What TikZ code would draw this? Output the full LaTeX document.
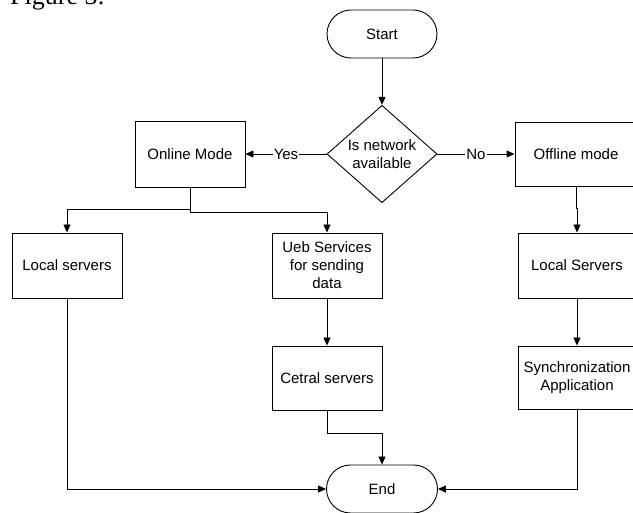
\documentclass[tikz,border=0pt]{standalone}
\usepackage{fontspec}
\setmainfont{Liberation Sans}
\newfontfamily\captionfont{Liberation Serif}
\usetikzlibrary{shapes,arrows.meta,positioning,calc}

\begin{document}
\begin{tikzpicture}[x=1pt,y=-1pt,
  font=\fontsize{15}{18}\selectfont,
  procbox/.style={rectangle,draw,line width=0.9pt,inner sep=0pt,minimum width=110pt,minimum height=65pt,align=center},
  term/.style={rectangle,draw,line width=0.9pt,rounded corners=24pt,minimum width=110pt,minimum height=48pt},
  decision/.style={diamond,draw,line width=0.9pt,inner sep=0pt,minimum width=110pt,minimum height=94pt,align=center},
  arr/.style={-{Triangle[length=8pt,width=7pt]},line width=0.9pt}]
  \useasboundingbox (0,0) rectangle (633,513);

  \node[anchor=base west,inner sep=0pt,font=\captionfont\fontsize{26}{30}\selectfont] (fig) at (10,5) {Figure 3:};

  \node[term] (start) at (382,34) {Start};
  \node[decision] (check) at (382,154) {Is network\\available};
  \node[procbox,minimum height=66pt] (online) at (190,154) {Online Mode};
  \node[procbox,minimum width=122pt,minimum height=64pt] (offline) at (576,154) {Offline mode};

  \node[procbox] (locall) at (67,265.5) {Local servers};
  \node[procbox] (ueb) at (327,265.5) {Ueb Services\\for sending\\data};
  \node[procbox,minimum height=64pt] (cetral) at (327,378) {Cetral servers};
  \node[procbox,minimum width=118pt] (localr) at (577,265.5) {Local Servers};
  \node[procbox,minimum width=118pt,minimum height=63pt] (sync) at (577,377.5) {Synchronization\\Application};

  \node[term,minimum width=111pt] (end) at (382,489) {End};

  \draw[arr] (start) -- (check);
  \draw[arr] (check.west) -- node[fill=white,inner sep=1pt] {Yes} (online.east);
  \draw[arr] (check.east) -- node[fill=white,inner sep=1pt] {No} (offline.west);

  \draw[arr] (online.south) -- ++(0,22) -| (locall.north);
  \draw[arr] (online.south) -- ++(0,25) -| (ueb.north);
  \draw[arr] (offline.south) -- ++(0,22) -| (localr.north);

  \draw[arr] (ueb) -- (cetral);
  \draw[arr] (localr) -- (sync);

  \draw[arr] (cetral.south) -- ++(0,23) -| (end.north);
  \draw[arr] (locall.south) |- (end.west);
  \draw[arr] (sync.south) |- (end.east);
\end{tikzpicture}
\end{document}
